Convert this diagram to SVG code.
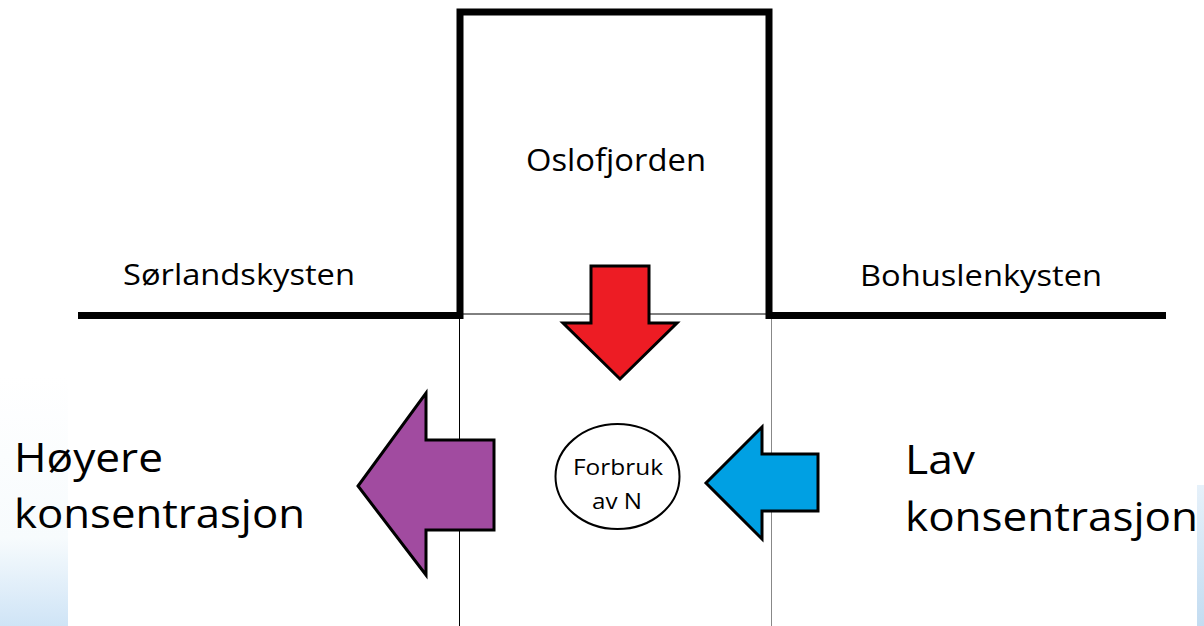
<svg xmlns="http://www.w3.org/2000/svg" width="1204" height="626" viewBox="0 0 1204 626">
<style>
.lbl{font-family:"Open Sans","Liberation Sans",sans-serif;fill:#000}
.arrow{stroke:#000;stroke-width:3;stroke-linejoin:miter}
.thin{stroke:#000;stroke-width:1;fill:none}
</style>
<defs>
<linearGradient id="bgL" x1="0" y1="0" x2="0" y2="1">
<stop offset="0" stop-color="#ffffff"/>
<stop offset="0.65" stop-color="#f7fbfd"/>
<stop offset="1" stop-color="#cfe4f6"/>
</linearGradient>
<linearGradient id="bgR" x1="0" y1="0" x2="0" y2="1">
<stop offset="0" stop-color="#e6f1fa"/>
<stop offset="1" stop-color="#c3dcf1"/>
</linearGradient>
</defs>
<rect width="1204" height="626" fill="#fff"/>
<rect x="0" y="375" width="68" height="251" fill="url(#bgL)"/>
<rect x="1197" y="485" width="7" height="141" fill="url(#bgR)"/>

<g id="connectors">
<line class="thin" x1="460" y1="314" x2="768" y2="314"/>
<line class="thin" x1="459.5" y1="316" x2="459.5" y2="626"/>
<line x1="771.5" y1="316" x2="771.5" y2="626" stroke="#888" stroke-width="1"/>
</g>

<g id="coast">
<polyline points="78,315.5 460,315.5 460,12 769,12 769,315.5 1166,315.5" fill="none" stroke="#000" stroke-width="7" stroke-linejoin="miter"/>
</g>

<g id="oslofjorden"><text class="lbl" x="616" y="171" font-size="31" text-anchor="middle" textLength="180" lengthAdjust="spacingAndGlyphs">Oslofjorden</text></g>
<g id="sorlandskysten"><text class="lbl" x="123" y="285" font-size="30" textLength="232" lengthAdjust="spacingAndGlyphs">Sørlandskysten</text></g>
<g id="bohuslenkysten"><text class="lbl" x="860" y="286" font-size="30" textLength="242" lengthAdjust="spacingAndGlyphs">Bohuslenkysten</text></g>

<g id="red-arrow">
<polygon class="arrow" fill="#ed1c24" points="591,266 649,266 649,323 677,323 620,379 563,323 591,323"/>
</g>

<g id="forbruk">
<ellipse cx="617.5" cy="476.5" rx="62" ry="52.5" fill="#fff" stroke="#000" stroke-width="2"/>
<text class="lbl" x="618" y="475" font-size="21" text-anchor="middle" textLength="90" lengthAdjust="spacingAndGlyphs">Forbruk</text>
<text class="lbl" x="617" y="509" font-size="21" text-anchor="middle" textLength="50" lengthAdjust="spacingAndGlyphs">av N</text>
</g>

<g id="purple-arrow">
<polygon class="arrow" fill="#a14ba0" points="494,440 494,530 426,530 426,575 358,486 426,393 426,440"/>
</g>

<g id="blue-arrow">
<polygon class="arrow" fill="#00a0e3" points="818,454 818,511 762,511 762,539 706,483 762,427 762,454"/>
</g>

<g id="hoyere">
<text class="lbl" x="14" y="472" font-size="40" textLength="149" lengthAdjust="spacingAndGlyphs">Høyere</text>
<text class="lbl" x="14" y="528" font-size="40" textLength="291" lengthAdjust="spacingAndGlyphs">konsentrasjon</text>
</g>

<g id="lav">
<text class="lbl" x="905" y="474" font-size="40" textLength="70" lengthAdjust="spacingAndGlyphs">Lav</text>
<text class="lbl" x="905" y="531" font-size="40" textLength="293" lengthAdjust="spacingAndGlyphs">konsentrasjon</text>
</g>
</svg>
